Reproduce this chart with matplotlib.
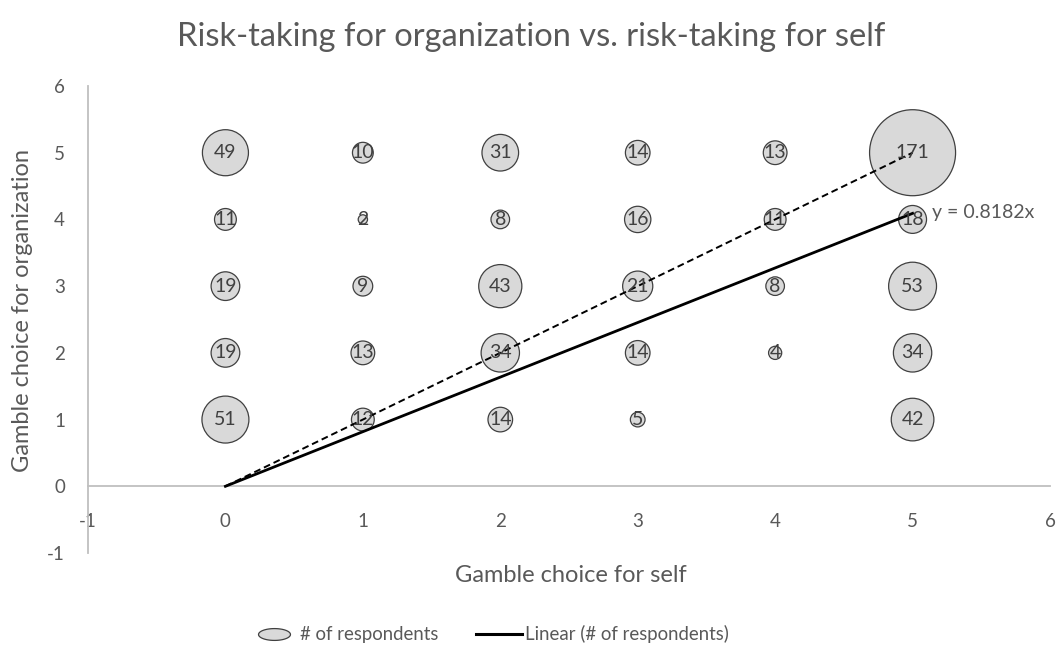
import numpy as np
import matplotlib.pyplot as plt
from matplotlib.lines import Line2D
from matplotlib.path import Path

plt.rcParams['font.family'] = ['Lato', 'DejaVu Sans']
plt.rcParams['axes.unicode_minus'] = False

# choice for self (x), choice for organization (y), number of respondents
self_choice = [0, 0, 0, 0, 0,
               1, 1, 1, 1, 1,
               2, 2, 2, 2, 2,
               3, 3, 3, 3, 3,
               4, 4, 4, 4,
               5, 5, 5, 5, 5]
org_choice = [5, 4, 3, 2, 1,
              5, 4, 3, 2, 1,
              5, 4, 3, 2, 1,
              5, 4, 3, 2, 1,
              5, 4, 3, 2,
              5, 4, 3, 2, 1]
respondents = [49, 11, 19, 19, 51,
               10, 2, 9, 13, 12,
               31, 8, 43, 34, 14,
               14, 16, 21, 14, 5,
               13, 11, 8, 4,
               171, 18, 53, 34, 42]
trend_slope = 0.8182

grey_txt = '#595959'
axis_col = '#BFBFBF'
bubble_fill = '#D9D9D9'
bubble_edge = '#404040'

fig = plt.figure(figsize=(10.62, 6.55), dpi=100)
ax = fig.add_axes([88/1062, 1-553/655, (1050-88)/1062, (553-86)/655])

x = np.array(self_choice, dtype=float)
y = np.array(org_choice, dtype=float)
n = np.array(respondents, dtype=float)

# bubbles, area proportional to count (largest ~86 px across)
scale = (86*0.72)**2 / n.max()
ax.scatter(x, y, s=n*scale, facecolor=bubble_fill, edgecolor=bubble_edge,
           linewidth=0.9, zorder=2)
for xi, yi, ni in zip(x, y, respondents):
    ax.text(xi, yi, str(ni), ha='center', va='center', fontsize=14,
            color='#404040', zorder=4)

# reference line y = x and fitted trend through origin
xr = np.array([x.min(), x.max()])
ax.plot(xr, xr, color='black', linestyle=(0, (3.5, 2)), linewidth=1.4, zorder=3)
ax.plot(xr, trend_slope*xr, color='black', linewidth=2.0, zorder=3)
ax.text(5.14, trend_slope*5 + 0.02, f'y = {trend_slope}x', fontsize=14,
        color=grey_txt, ha='left', va='center')

ax.set_xlim(-1, 6)
ax.set_ylim(-1, 6)
ax.set_xticks(range(-1, 7))
ax.set_yticks(range(-1, 7))
for s in ['top', 'right']:
    ax.spines[s].set_visible(False)
ax.spines['bottom'].set_position(('data', 0))
ax.spines['bottom'].set_color(axis_col)
ax.spines['left'].set_color(axis_col)
ax.spines['bottom'].set_linewidth(1.3)
ax.spines['left'].set_linewidth(1.3)
ax.tick_params(axis='both', length=0, labelsize=13.5, labelcolor=grey_txt)
ax.tick_params(axis='x', pad=19)
ax.tick_params(axis='y', pad=16.5)

fig.text(571/1062, 1-575/655, 'Gamble choice for self', ha='center', va='center',
         fontsize=17, color=grey_txt)
fig.text(23/1062, 1-310/655, 'Gamble choice for organization', ha='center',
         va='center', rotation=90, fontsize=17, color=grey_txt)
fig.text(531/1062, 1-37/655, 'Risk-taking for organization vs. risk-taking for self',
         ha='center', va='center', fontsize=23.5, color=grey_txt)

# flattened ellipse marker for the legend
t = np.linspace(0, 2*np.pi, 60)
ellipse = Path(np.column_stack([2.7*np.cos(t), np.sin(t)]), closed=True)
handles = [
    Line2D([], [], marker=ellipse, linestyle='none', markersize=23,
           markerfacecolor=bubble_fill, markeredgecolor=bubble_edge,
           markeredgewidth=0.9),
    Line2D([], [], color='black', linewidth=2.2),
]
fig.legend(handles, ['# of respondents', 'Linear (# of respondents)'],
           loc='center', bbox_to_anchor=(490/1062, 1-634/655), ncol=2,
           frameon=False, fontsize=13.4, labelcolor=grey_txt,
           handlelength=2.5, columnspacing=2.0, handletextpad=0.16)

fig.savefig('out.png', dpi=100)
